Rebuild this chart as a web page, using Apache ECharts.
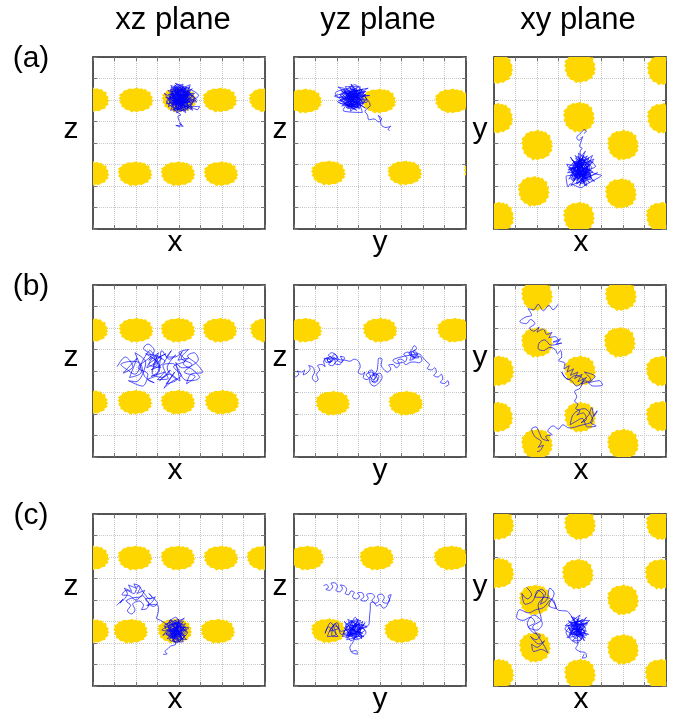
<!DOCTYPE html>
<html>
<head>
<meta charset="utf-8">
<script src="https://cdn.jsdelivr.net/npm/echarts@6/dist/echarts.min.js"></script>
<style>
  html, body { margin: 0; padding: 0; background: #fff; }
  #chart { width: 674px; height: 713px; }
</style>
</head>
<body>
<div id="chart"></div>
<script>
// Column headings, row tags and axis names
const planeTitles = ['xz plane', 'yz plane', 'xy plane'];
const rowTags = ['(a)', '(b)', '(c)'];
const axisNames = [['x', 'z'], ['y', 'z'], ['x', 'y']];

// Centres of the particle clouds (axis units 0..8), one list per panel
const clustersXzA = [[-0.05,6.0],[2.0,6.0],[4.0,6.0],[5.9,6.0],[8.05,6.0],[-0.05,2.57],[1.95,2.57],[3.95,2.57],[5.95,2.57]];
const clustersYzA = [[0.5,5.95],[3.95,5.95],[7.35,5.95],[1.6,2.6],[5.15,2.6],[8.7,2.65]];
const clustersXyA = [[0.15,7.45],[4.0,7.5],[7.85,7.4],[0.15,5.15],[3.95,5.2],[7.85,5.15],[2.0,3.9],[6.0,3.9],[1.85,1.75],[5.9,1.65],[3.95,0.55],[0.2,0.55],[7.8,0.55]];
const clustersXzB = [[-0.1,5.9],[2.0,5.9],[3.95,5.9],[5.9,5.9],[8.1,5.9],[-0.1,2.55],[1.95,2.55],[3.95,2.55],[6.0,2.55]];
const clustersYzB = [[0.5,5.9],[4.0,5.9],[7.45,5.9],[1.8,2.5],[5.2,2.5]];
const clustersXyB = [[2.0,7.5],[5.9,7.5],[2.0,5.33],[5.85,5.33],[0.2,4.0],[4.0,4.0],[7.8,4.0],[0.15,1.85],[4.0,1.85],[7.8,1.9],[2.0,0.6],[6.0,0.6]];
const clustersXzC = [[-0.05,5.95],[1.95,5.95],[3.95,5.95],[5.95,5.95],[7.95,5.95],[-0.05,2.55],[1.75,2.55],[3.8,2.56],[5.8,2.55]];
const clustersYzC = [[0.6,5.95],[3.85,5.95],[7.3,5.95],[1.6,2.57],[5.0,2.57]];
const clustersXyC = [[0.2,7.5],[4.0,7.5],[7.8,7.5],[0.2,5.25],[3.9,5.2],[7.75,5.2],[1.9,4.0],[6.0,4.0],[1.9,1.8],[6.0,1.7],[4.0,0.55],[0.2,0.55],[7.75,0.55]];

// Walker trajectories, projected onto each plane
const pathXzA = [[4.05,4.75],[3.85,4.82],[4.2,4.78],[4.02,4.9],[4.12,4.85],[4.0,5.05],[3.95,5.25],[4.08,5.3],[3.9,5.45],
[3.72,5.62],[4.31,6.48],[3.55,6.18],[4.62,5.82],[3.88,5.41],[4.48,6.61],[3.42,5.93],[4.22,5.52],[4.71,6.12],[3.63,6.58],[4.02,5.71],[4.41,6.31],[3.51,5.68],[3.92,6.72],[4.83,5.91],[3.71,5.94],[4.33,5.61],[3.62,6.41],[4.52,6.42],[4.11,6.02],[3.38,6.12],[4.61,5.58],[3.81,6.52],[4.19,6.74],[3.93,5.52],[4.72,6.31],[3.52,6.02],[4.31,5.42],[4.02,6.33],[3.61,5.51],[4.43,6.04],[3.82,6.78],[4.91,6.21],[4.21,5.92],[3.31,6.32],[4.03,5.62],[4.52,6.71],[3.72,6.22],[4.63,5.52],[4.12,6.51],[3.53,5.82],[4.32,6.22],[3.91,5.93],[4.81,6.02],[3.62,6.68],[4.22,5.72],[3.83,6.12],[4.42,5.51],[4.02,6.62],[3.41,5.82],[4.53,6.12],[3.92,6.42],[4.12,5.48],[3.71,5.72],[4.62,6.52],[3.98,6.05],[4.25,6.35],[3.78,5.85],[4.15,5.78],[3.88,6.28],[4.38,5.88],[3.68,6.05],[4.08,6.18],[4.28,5.98],[3.85,5.7],[4.05,6.45],[4.45,6.18],[3.58,6.3],[4.18,5.6],[3.95,6.15],[4.35,6.6],[3.75,5.48],[4.68,5.95],[3.48,6.45],[4.1,5.88],[3.9,6.58],[4.55,5.7],[4.96,5.7],[4.85,5.55],[4.6,5.65],[3.8,6.0],[4.2,6.1],
[4.3,5.75],[3.7,6.35],[4.15,6.55],[3.85,5.6],[4.5,6.25],[3.6,5.9],[4.05,5.8],[4.4,6.45],[3.75,6.6],[4.25,5.5],[3.55,6.1],[4.6,6.0],[3.95,6.3],[4.2,5.85],[3.8,6.45],[4.35,6.05],[3.65,5.75],[4.1,6.65],[4.45,5.65],[3.9,5.95],[4.15,6.25],[3.7,6.15],[4.3,6.4],[4.0,5.55],[3.6,6.5],[4.55,6.3],[3.85,6.0],[4.2,6.6],[4.4,5.8],[3.75,5.55],[4.05,6.2],[3.5,6.25],[4.65,6.2],[3.95,5.65],[4.25,6.15],[3.8,6.7],[4.1,5.95],[4.5,5.9],[3.65,6.0],[4.0,6.5]];

const pathYzA = [[2.71,6.02],[2.32,6.41],[3.12,5.72],[2.53,5.61],[3.28,6.38],[2.11,6.12],[2.82,6.71],[3.41,5.92],[2.41,5.82],[2.92,5.52],[1.92,6.31],[2.62,6.52],[3.22,6.08],[2.22,5.72],[2.98,6.42],[2.52,6.18],[3.52,6.21],[2.02,5.92],[2.72,5.72],[3.08,6.62],[2.38,6.62],[2.88,5.88],[2.18,6.45],[3.32,5.62],[2.58,6.02],[1.88,6.18],[2.68,6.32],[3.18,5.42],[2.28,5.52],[2.78,6.12],[3.45,6.55],[2.45,6.22],[3.02,5.78],[2.12,5.88],[2.85,6.55],[2.62,5.48],[3.38,6.02],[2.35,6.05],[2.95,6.25],[2.55,5.78],[3.15,6.45],[2.25,6.28],[2.75,5.92],[3.25,5.85],[2.48,6.48],[2.05,6.6],[2.9,6.05],[2.65,6.75],[3.05,5.95],[2.42,5.65],[3.35,6.25],[2.15,6.0],[2.8,5.6],[2.6,6.15],[3.1,6.3],[2.3,5.9],[2.95,5.65],
[2.9,6.3],[2.4,5.75],[3.1,5.85],[2.55,6.45],[2.85,5.65],[2.25,6.15],[3.2,6.5],[2.65,5.9],[2.4,6.35],[3.0,6.1],[2.5,5.6],[2.95,6.6],[2.2,5.95],[3.3,5.95],[2.7,6.4],[2.45,6.0],[3.05,5.6],[2.6,6.6],[2.85,6.15],[2.35,5.85],[3.25,6.2],[2.75,5.75],[2.55,6.3],[3.15,6.0],[2.3,6.5],[2.9,5.8],[2.65,6.2],[3.35,6.4],[2.5,5.95],[2.8,6.5],[2.15,6.25],[3.0,5.7],[2.6,5.8],[2.95,6.45],[2.4,6.1],[3.1,6.35],[2.7,6.05],[2.45,5.7],[3.2,5.8],[2.75,6.6],
[3.55,5.75],[3.3,5.48],[3.42,5.3],[3.48,5.08],[3.72,5.12],[3.95,4.98],[4.08,5.12],[3.92,5.28],[4.02,5.05],[4.05,4.85],[4.28,4.72],[4.5,4.78],[4.38,4.62],[4.45,4.58]];

const pathXyA = [[4.18,4.45],[4.3,4.55],[4.2,4.62],[4.05,4.48],[3.85,4.25],[3.95,4.12],[4.12,4.3],[4.05,4.05],[3.98,3.85],[4.1,3.75],[4.0,3.6],
[4.12,2.82],[3.62,3.21],[4.52,2.42],[3.82,2.12],[4.42,3.32],[3.42,2.62],[4.72,2.92],[3.92,3.52],[4.32,2.02],[3.52,2.92],[4.62,3.12],[3.72,2.42],[4.22,3.12],[3.58,2.02],[4.82,2.62],[4.02,2.32],[3.38,3.02],[4.48,2.72],[3.78,3.42],[4.28,2.52],[3.62,2.62],[4.58,3.42],[3.98,2.02],[4.38,2.92],[3.48,2.32],[4.18,3.42],[3.88,2.72],[4.68,2.22],[3.72,3.08],[4.08,2.55],[3.55,3.35],[4.45,2.15],[3.85,2.95],[4.25,3.62],[3.65,2.25],[4.55,2.85],[3.95,3.25],[4.35,2.35],[3.75,2.58],[4.15,2.98],[3.45,2.75],[4.65,3.25],[4.0,2.65],[3.8,3.15],[4.4,2.6],[3.6,2.85],[4.2,2.2],[3.9,3.05],[4.3,3.2],[3.7,2.75],[4.5,2.5],[4.1,3.3],
[4.3,2.95],[3.75,2.35],[4.15,3.35],[3.6,2.7],[4.45,2.45],[3.9,3.15],[4.2,2.15],[3.7,2.95],[4.5,3.0],[3.85,2.25],[4.05,3.0],[3.55,2.5],[4.35,2.7],[3.95,2.4],[4.25,3.25],[3.65,3.05],[4.6,2.65],[3.8,2.55],[4.1,2.1],[4.4,3.15],[3.7,2.2],[4.0,2.85],[3.5,2.85],[4.3,2.3],[3.9,3.4],[4.55,2.35],[3.75,2.75],[4.2,2.6],[3.6,2.3],[4.05,3.2],[4.45,2.85],[3.85,2.1],[4.15,2.45],[3.65,2.85],[4.35,3.4],[3.95,2.65],[4.25,2.0],[3.8,3.3],[4.5,2.55],[4.0,2.5],
[3.35,2.45],[3.45,1.95],[3.55,2.1],[4.05,1.92],[4.25,2.05],[4.92,2.42],[5.0,2.5],[4.75,2.55],[4.1,2.85],[3.85,2.55]];

const pathXzB = [[1.12,4.2],[1.5,4.65],[1.85,4.2],[1.4,3.9],[2.05,4.6],[1.7,3.7],[2.25,3.95],[1.95,4.85],[2.45,4.4],[2.0,3.5],[1.65,3.55],[2.3,3.3],[2.55,3.85],[2.1,4.15],[2.7,4.75],[2.35,5.05],[2.55,5.25],[2.85,4.95],[2.6,4.5],[3.05,4.85],[2.8,4.25],[3.2,4.6],[2.45,4.8],[3.0,4.35],[2.7,4.05],[3.35,4.45],[2.9,4.7],[3.15,4.15],[2.6,4.3],[3.4,4.8],[3.0,4.55],[2.75,3.9],[3.25,3.7],[3.6,4.05],[3.1,3.55],[3.55,3.85],[3.9,3.6],[3.4,3.4],[3.8,3.95],[3.3,3.2],[3.65,3.5],[4.1,3.8],[3.75,4.2],[4.3,4.5],[4.0,4.85],[4.45,5.0],[4.1,4.6],[4.6,4.3],[4.25,3.95],[4.75,3.75],[4.35,3.4],[4.55,3.85],[5.1,3.95],[4.8,4.35],[4.4,4.7],[4.7,4.85],[4.9,4.55],[4.5,4.2],[4.15,4.15],[3.85,4.4],[4.05,3.55],[3.7,3.75],[3.45,4.15],[3.85,4.75],[3.55,4.55],[3.2,4.95],[3.1,4.3],[2.95,3.8],[2.55,3.6],[2.85,3.45],[2.4,3.75],[2.2,4.35],[1.8,4.45],[1.3,4.3],[1.6,4.05],[1.95,3.85],[2.35,4.55],[2.65,4.95],[2.9,4.45],[2.5,4.15],[2.8,4.6],[3.1,4.05],[2.7,3.75],[3.35,3.95],[3.0,3.6],[3.5,3.65],[3.25,4.25],[3.7,4.35],[3.95,4.1],[4.25,3.6],[4.6,3.55],[4.95,3.7],[4.65,4.05],[4.2,4.35],[4.45,4.6],[3.95,4.5],[4.15,4.9],[3.8,4.65],[3.4,4.65],[3.65,4.95],[3.3,4.4]];

const pathYzB = [[0.05,3.72],[0.22,3.85],[0.15,4.0],[0.35,3.95],[0.5,4.05],[0.42,3.82],[0.6,3.9],[0.75,4.12],[0.68,4.25],[0.88,4.18],[0.95,3.95],[0.85,3.7],[1.0,3.5],[1.12,3.62],[1.05,3.85],[1.2,4.05],[1.1,4.25],[1.3,4.3],[1.45,4.2],[1.38,4.45],[1.55,4.6],[1.7,4.48],[1.62,4.3],[1.8,4.25],[1.92,4.45],[1.78,4.62],[1.6,4.72],[1.75,4.85],[1.95,4.75],[2.05,4.55],[1.9,4.35],[2.1,4.3],[2.25,4.48],[2.15,4.68],[2.35,4.62],[2.2,4.4],[2.0,4.5],[1.85,4.65],
[1.7,4.4],[1.55,4.5],[1.68,4.68],[1.85,4.52],[2.0,4.65],[1.88,4.78],[1.7,4.6],[1.52,4.62],[1.62,4.4],[1.8,4.48],
[1.5,4.4],[1.4,4.6],[1.65,4.55],[1.9,4.58],[2.15,4.52],[2.4,4.5],[2.6,4.45],[2.8,4.55],[3.0,4.45],[3.08,4.2],[2.98,3.95],[3.15,3.85],[3.3,3.95],[3.22,3.7],[3.4,3.6],[3.55,3.78],[3.45,3.95],[3.62,4.05],[3.7,3.85],[3.58,3.62],[3.75,3.45],[3.9,3.58],[3.82,3.8],[3.98,3.9],[4.1,3.72],[3.95,3.45],[3.72,3.3],[3.55,3.42],[3.5,3.65],[3.35,3.82],[3.6,3.95],
[3.78,3.68],[3.62,3.5],[3.85,3.55],[3.95,3.75],[3.75,3.9],[3.55,3.72],[3.7,3.6],[3.88,3.85],[3.65,3.78],
[3.85,4.0],[3.9,4.3],[3.95,4.6],[4.1,4.55],[4.05,4.3],[4.2,4.05],[4.35,3.95],[4.5,4.1],[4.4,4.28],[4.62,4.3],[4.75,4.15],[4.9,4.3],[4.82,4.5],[5.0,4.55],[5.15,4.42],[5.25,4.62],[5.1,4.78],[5.3,4.88],[5.45,4.7],[5.38,4.5],[5.55,4.55],[5.68,4.72],[5.55,4.9],[5.7,5.05],[5.6,5.18],[5.48,5.0],[5.35,4.8],[5.62,4.62],
[5.45,4.85],[5.6,4.95],[5.75,4.78],[5.52,4.68],[5.42,4.9],[5.65,4.85],[5.8,4.62],[5.5,4.6],
[5.85,4.68],[5.95,4.5],[5.8,4.38],[5.6,4.42],[5.4,4.4],[5.2,4.3],[5.05,4.4],[4.8,4.35],[4.6,4.5],[4.85,4.62],[5.2,4.7],[5.5,4.75],[5.8,4.8],[6.0,4.62],[6.15,4.45],[6.3,4.3],[6.2,4.12],[6.4,4.05],[6.55,4.15],[6.62,3.95],[6.5,3.8],[6.7,3.72],[6.85,3.85],[6.92,3.62],[6.8,3.48],[7.0,3.42],[7.15,3.55],[7.2,3.38],[7.05,3.28]];

const pathXyB = [[2.98,7.1],[2.75,6.85],[2.55,7.05],[2.3,6.8],[2.05,7.1],[1.85,6.85],[1.58,6.9],[1.75,6.6],[1.45,6.5],[1.2,6.3],[1.5,6.2],[1.7,6.4],[1.9,6.2],[1.65,6.0],[1.85,5.85],[2.1,6.05],[2.0,5.8],[2.3,5.95],[2.45,5.7],[2.7,5.8],[2.55,5.55],[2.85,5.6],[3.0,5.4],[2.75,5.35],[3.1,5.5],[2.9,5.25],[3.15,5.3],[2.65,5.2],[2.35,5.45],[2.1,5.3],[2.05,5.05],[2.3,4.95],[2.6,5.1],[2.85,5.0],[2.95,4.8],[3.1,4.95],[3.15,4.65],[3.0,4.5],[3.3,4.35],[3.25,4.1],[3.5,4.25],[3.4,3.95],[3.7,4.1],[3.55,3.8],[3.9,3.95],[3.75,3.65],[4.1,3.85],[3.9,3.5],[4.3,3.7],[4.05,3.4],[4.5,3.6],[4.2,3.95],[4.7,3.75],[4.4,3.45],[4.9,3.55],[5.05,3.35],[4.6,3.3],[4.25,3.55],[3.85,3.3],[3.6,3.55],[3.3,3.7],[3.15,3.95],[3.45,3.6],[3.8,3.8],[4.15,3.6],[4.0,3.2],[3.75,3.05],[3.85,2.8],[3.75,2.6],[3.9,2.45],[3.8,2.25],[4.0,2.15],[3.85,1.95],[4.15,2.05],[4.3,1.75],[4.05,1.6],[4.4,1.95],[4.55,2.3],[4.65,1.9],[4.8,2.15],[4.5,1.6],[4.75,1.45],[4.35,1.4],[4.1,1.8],[3.8,1.65],[3.55,1.5],[3.7,2.0],[4.2,2.25],[4.45,2.05],[4.6,1.7],[3.95,1.45],[3.5,1.35],[3.2,1.5],[3.0,1.3],[2.75,1.45],[2.5,1.2],[2.7,1.05],[2.4,0.95],[2.55,0.75],[2.25,0.85],[2.1,1.15],[1.95,1.4],[1.75,1.3],[1.9,0.95],[2.2,0.7],[2.05,0.45],[2.3,0.55],[2.15,0.3],[2.0,0.25]];

const pathXzC = [[1.1,3.75],[1.4,4.05],[1.25,3.85],[1.6,4.3],[1.45,4.55],[1.8,4.4],[1.65,4.7],[2.0,4.55],[1.9,4.75],[2.2,4.6],[2.05,4.3],[2.4,4.45],[2.2,4.15],[1.85,4.1],[1.55,3.95],[1.75,3.75],[1.6,3.5],[1.8,3.35],[1.95,3.55],[1.85,3.8],[2.15,3.95],[2.35,3.75],[2.25,3.55],[2.5,3.6],[2.6,3.85],[2.45,4.05],[2.75,4.1],[2.6,4.3],[2.9,4.0],[3.0,3.85],[2.8,3.7],[2.55,3.9],[2.3,4.2],[2.0,4.0],[1.7,4.2],[1.35,4.25],[1.55,4.45],[1.9,4.3],[2.1,4.65],[2.35,4.35],[2.65,4.05],[2.9,4.15],[2.7,3.85],[2.5,3.75],[2.95,3.8],
[3.05,3.6],[3.0,3.3],[2.95,3.15],[3.15,3.05],[3.3,2.95],
[3.6,2.75],[4.1,2.3],[3.4,2.45],[4.3,2.9],[3.7,2.1],[4.0,3.1],[3.3,2.8],[4.4,2.5],[3.85,2.0],[3.55,3.05],[4.2,2.65],[3.45,2.2],[4.05,2.85],[3.75,2.4],[4.35,2.15],[3.6,2.95],[3.95,2.55],[3.2,2.6],[4.25,3.15],[3.8,2.75],[4.45,2.7],[3.5,2.35],[4.0,2.15],[3.65,2.6],[4.15,2.45],[3.85,3.2],[3.35,2.7],[4.3,2.35],[3.9,2.45],[3.7,2.9],[4.1,2.75],[3.55,2.15],[4.2,2.05],[3.8,2.6],[3.25,2.35],[3.95,2.95],[4.35,2.6],[3.6,2.5],[4.05,2.05],[3.75,2.25],[3.45,2.9],[3.9,2.7],[4.15,2.2],[3.7,2.45],[4.0,2.4],
[3.9,2.6],[3.55,2.3],[4.15,2.9],[3.65,2.85],[4.25,2.3],[3.75,2.05],[4.0,3.0],[3.45,2.6],[4.3,2.75],[3.8,2.35],[4.1,2.55],[3.6,3.1],[4.2,2.15],[3.7,2.7],[3.95,2.2],[3.4,2.4],[4.35,2.5],[3.85,2.9],[4.05,2.3],[3.5,2.75],[4.2,3.0],[3.75,2.5],[3.95,2.85],[3.6,2.2],[4.25,2.6],[3.8,3.05],[4.1,2.1],[3.55,2.55],[4.0,2.7],[3.7,2.3],
[3.85,1.95],[3.6,1.85],[3.5,1.75],[3.35,1.6],[3.45,1.5],[3.26,1.47]];

const pathYzC = [[1.37,4.66],[1.52,4.72],[1.6,4.58],[1.48,4.5],[1.65,4.45],[1.8,4.62],[1.72,4.78],[1.9,4.8],[2.02,4.62],[1.95,4.45],[2.12,4.38],[2.25,4.55],[2.15,4.7],[2.35,4.65],[2.45,4.48],[2.38,4.3],[2.55,4.25],[2.65,4.42],[2.8,4.35],[2.72,4.15],[2.9,4.05],[3.05,4.18],[2.95,4.32],[3.15,4.35],[3.25,4.15],[3.1,4.0],[3.3,3.95],[3.45,4.08],[3.38,4.25],[3.6,4.3],[3.75,4.15],[3.62,3.98],[3.8,3.85],[3.95,3.98],[3.88,4.18],[4.05,4.28],[4.2,4.12],[4.12,3.92],[4.3,3.85],[4.45,4.0],[4.38,4.18],[4.52,4.25],[4.45,4.05],[4.3,3.7],[4.15,3.62],[4.0,3.8],[3.85,3.72],[3.7,3.9],[3.55,3.85],
[3.55,3.6],[3.52,3.3],[3.5,3.0],[3.48,2.85],
[3.2,2.7],[2.6,2.35],[3.1,3.05],[2.4,2.8],[2.9,2.15],[3.35,2.5],[2.5,3.1],[2.8,2.6],[3.25,2.3],[2.3,2.45],[2.7,2.95],[3.05,2.4],[2.45,2.15],[2.95,2.85],[3.4,2.75],[2.55,2.6],[2.85,3.2],[3.15,2.2],[2.35,3.0],[2.75,2.4],[3.0,2.65],[2.6,2.85],[2.25,2.3],[2.9,2.5],[3.3,2.95],[2.65,2.1],[2.5,2.45],[3.05,2.9],[2.8,2.25],[2.4,2.65],[3.2,2.45],[2.7,2.7],[2.95,3.0],[2.55,2.3],
[2.8,2.75],[2.45,2.4],[3.1,2.6],[2.65,3.05],[2.95,2.2],[2.35,2.7],[3.25,2.85],[2.7,2.35],[3.0,3.1],[2.5,2.9],[3.15,2.35],[2.6,2.55],[2.9,2.95],[2.4,2.25],[3.3,2.6],[2.75,2.8],[3.05,2.5],[2.55,2.75],[2.85,2.4],[3.2,3.0],
[2.2,2.55],[1.9,2.9],[1.75,2.35],[2.05,2.3],[1.6,2.75],[1.45,2.45],[1.7,2.95],[1.95,2.4],[1.55,2.3],[1.85,2.8],[2.1,2.7],[1.65,2.55],[2.0,2.95],[2.2,2.4],
[2.6,2.5],[2.85,2.3],[2.75,2.05],[2.6,1.8],[2.7,1.55],[2.95,1.48],[2.9,1.65],[2.65,1.6]];

const pathXyC = [[1.5,4.6],[1.75,4.25],[1.55,4.05],[1.3,4.3],[1.45,3.8],[1.8,3.95],[2.05,4.45],[2.3,4.2],[2.15,3.8],[2.45,4.0],[2.6,4.55],[2.8,4.3],[2.55,3.75],[2.9,3.6],[2.7,4.05],[2.3,3.65],[1.95,3.55],[1.6,3.4],[1.2,3.55],[1.05,3.2],[1.35,3.05],[1.7,3.2],[1.9,2.95],[1.6,2.75],[2.0,2.6],[2.25,2.9],[1.85,3.3],[1.55,2.9],[1.8,2.5],[2.15,2.35],[1.95,2.15],[1.7,2.3],[2.1,1.95],[2.35,2.1],[2.0,1.8],[1.75,1.95],[1.85,1.6],[2.2,1.7],[2.5,1.55],[2.35,1.85],[2.0,2.4],[1.8,2.75],[2.2,3.1],[2.05,3.75],[2.4,4.3],[2.2,4.5],[1.9,4.15],[2.55,4.1],[2.8,3.85],[2.95,3.55],
[3.2,3.5],[3.37,3.49],
[3.7,3.1],[4.2,2.5],[3.5,2.4],[4.0,3.3],[3.3,2.8],[4.35,2.9],[3.65,2.1],[4.1,2.2],[3.45,3.05],[3.9,2.6],[4.4,2.4],[3.6,2.75],[4.15,3.1],[3.35,2.5],[3.85,2.0],[4.25,2.7],[3.55,2.95],[4.05,2.85],[3.75,2.35],[4.3,3.2],[3.4,2.25],[3.95,2.45],[3.6,3.25],[4.2,2.1],[3.8,2.85],[3.5,2.6],[4.1,2.65],[3.7,2.5],[4.45,3.05],[3.9,3.0],[3.3,2.65],[4.0,2.3],[3.65,2.55],[4.2,2.9],[3.8,2.2],[3.45,2.8],[3.95,2.75],[4.3,2.35],[3.85,2.55],
[3.9,2.9],[3.55,2.45],[4.2,2.75],[3.7,3.2],[4.05,2.2],[3.45,2.7],[4.3,2.55],[3.8,2.4],[4.1,3.0],[3.6,2.9],[4.25,2.25],[3.75,2.65],[3.95,3.15],[3.5,2.3],[4.35,2.95],[3.85,2.75],[4.15,2.35],[3.65,2.45],[4.0,2.6],[3.8,3.0],
[3.9,1.95],[3.8,1.75],[4.0,1.6],[4.25,1.55],[4.3,1.35],[4.1,1.3],[4.2,1.5]];

const clusterSets = [clustersXzA, clustersYzA, clustersXyA, clustersXzB, clustersYzB, clustersXyB, clustersXzC, clustersYzC, clustersXyC];
const pathSets = [pathXzA, pathYzA, pathXyA, pathXzB, pathYzB, pathXyB, pathXzC, pathYzC, pathXyC];

// ---- layout and styling ----
const colLeft = [93, 294, 494];
const rowTop = [57, 285, 514];
const boxSize = 172;
const titleFont = '31px "Liberation Sans", Arial, sans-serif';
const textFont = '30px "Liberation Sans", Arial, sans-serif';
const cloudColor = '#FFD700';
const pathColor = 'rgba(0,0,255,0.8)';
// ragged outline used for each particle cloud (drawn in a 100x100 box)
const cloudOutline = 'M50,2 L55,0 L58,6 L66,3 L72,9 L76,5 L80,10 L84,18 L90,16 L92,22 L91,31 L98,38 L95,47 L100,54 L94,61 L98,66 L96,70 L88,76 L90,82 L86,85 L77,88 L70,95 L61,93 L52,99 L44,94 L38,100 L35,97 L29,90 L20,89 L16,81 L8,76 L9,67 L2,60 L6,51 L0,43 L6,36 L1,31 L4,27 L12,21 L15,12 L24,10 L30,4 L40,6 Z';

const grids = [], xAxes = [], yAxes = [], series = [], graphics = [];

function frameAxis(gridIndex, position, withGrid) {
  return {
    type: 'value', gridIndex, position, min: 0, max: 8, interval: 1,
    axisLabel: { show: false },
    axisLine: { show: true, onZero: false, lineStyle: { color: '#222', width: 1.5 } },
    axisTick: { show: true, inside: true, length: 4, lineStyle: { color: '#777', width: 1 } },
    splitLine: { show: withGrid, lineStyle: { color: '#c8c8c8', type: 'dotted', width: 1 } }
  };
}

// each cloud: the outline fitted in an h x h square, then stretched to width w
function cloudRenderer(w, h) {
  return function (params, api) {
    const p = api.coord([api.value(0), api.value(1)]);
    return {
      type: 'path',
      x: p[0], y: p[1], scaleX: w / h,
      shape: { pathData: cloudOutline, x: -h / 2, y: -h / 2, width: h, height: h },
      style: { fill: cloudColor }
    };
  };
}

for (let r = 0; r < 3; r++) {
  for (let c = 0; c < 3; c++) {
    const g = r * 3 + c;
    grids.push({ left: colLeft[c], top: rowTop[r], width: boxSize, height: boxSize, containLabel: false });
    xAxes.push(frameAxis(g, 'bottom', true));
    xAxes.push(frameAxis(g, 'top', false));
    yAxes.push(frameAxis(g, 'left', true));
    yAxes.push(frameAxis(g, 'right', false));
    const flat = c < 2;
    series.push({
      type: 'custom', xAxisIndex: 2 * g, yAxisIndex: 2 * g,
      data: clusterSets[g], encode: { x: 0, y: 1 },
      renderItem: flat ? cloudRenderer(35, 25) : cloudRenderer(32, 31),
      clip: true, silent: true, z: 2
    });
    series.push({
      type: 'line', xAxisIndex: 2 * g, yAxisIndex: 2 * g,
      data: pathSets[g], showSymbol: false, symbol: 'none', smooth: 0.35,
      lineStyle: { color: pathColor, width: 0.85 },
      silent: true, clip: true, z: 3
    });
  }
}

function label(text, x, y, font) {
  graphics.push({
    type: 'text', x, y,
    style: { text, font: font || textFont, fill: '#000', textAlign: 'center', textVerticalAlign: 'middle', align: 'center', verticalAlign: 'middle' }
  });
}

const titleX = [173, 378, 578];
planeTitles.forEach((t, i) => label(t, titleX[i], 20, titleFont));
rowTags.forEach((t, i) => label(t, 31, rowTop[i] + 2));
const sideX = [71, 280, 480];
const bottomX = [175, 380, 581];
for (let r = 0; r < 3; r++) {
  for (let c = 0; c < 3; c++) {
    label(axisNames[c][1], sideX[c], rowTop[r] + 73);
    label(axisNames[c][0], bottomX[c], rowTop[r] + boxSize + 14);
  }
}

const chart = echarts.init(document.getElementById('chart'), null, { renderer: 'canvas' });
chart.setOption({
  animation: false,
  backgroundColor: '#fff',
  grid: grids, xAxis: xAxes, yAxis: yAxes, series,
  graphic: graphics
});
</script>
</body>
</html>
